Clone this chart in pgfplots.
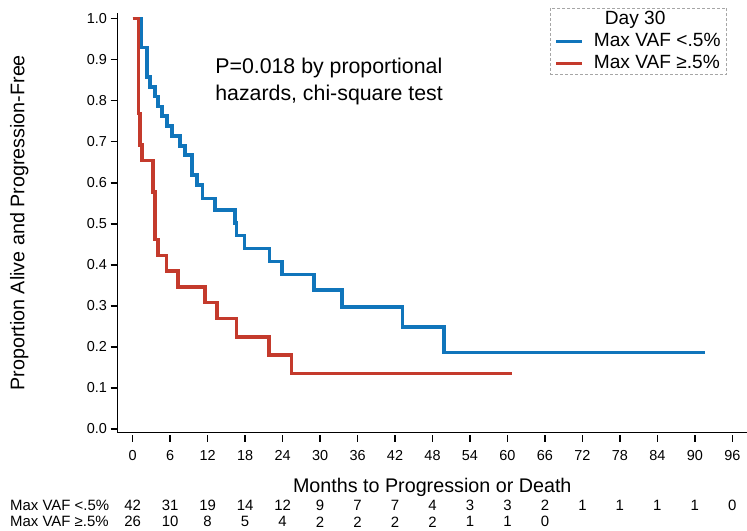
\documentclass[border=0pt]{standalone}
\usepackage{pgfplots}
\pgfplotsset{compat=1.18}
\usepackage{fontspec}
\setmainfont{Liberation Sans}
\definecolor{kmblue}{RGB}{16,117,187}
\definecolor{kmred}{RGB}{196,58,44}

% Kaplan-Meier steps: time (months), survival proportion
\pgfplotstableread{
t s
0 1
1.3 0.929
2.3 0.857
2.8 0.833
3.6 0.810
4.1 0.786
4.7 0.762
5.5 0.738
6.3 0.714
7.6 0.690
8.4 0.667
9.5 0.619
10.3 0.595
11.2 0.562
13.2 0.533
16.4 0.502
16.6 0.471
17.9 0.440
21.9 0.408
23.9 0.376
29.0 0.338
33.5 0.297
43.2 0.248
49.8 0.186
91.7 0.186
}\lowvaf
\pgfplotstableread{
t s
0 1
0.9 0.769
1.2 0.692
1.5 0.654
3.3 0.577
3.6 0.462
4.1 0.423
5.4 0.385
7.3 0.346
11.6 0.308
13.5 0.269
16.6 0.224
21.8 0.180
25.4 0.135
60.8 0.135
}\highvaf

\begin{document}
\begin{tikzpicture}
\path[use as bounding box] (0,0) rectangle (747bp,531bp);
\begin{axis}[
  at={(117.5bp,98.5bp)}, anchor=south west,
  scale only axis, width=629.5bp, height=419.5bp,
  xmin=-2.43, xmax=98.35, ymin=-0.0085, ymax=1.0134,
  axis x line*=bottom, axis y line*=left,
  axis line style={line width=1.6bp, black},
  tick align=outside,
  major tick length=7bp,
  every tick/.style={line width=1.6bp, black},
  xtick style={yshift=-2.5bp},
  xtick={0,6,...,96},
  ytick={0,0.1,0.2,0.3,0.4,0.5,0.6,0.7,0.8,0.9,1.0},
  ticklabel style={font=\fontsize{14.5}{16}\selectfont},
  /pgf/number format/assume math mode=true,
  yticklabel style={/pgf/number format/.cd, fixed, fixed zerofill, precision=1},
  xticklabel style={yshift=-7.5bp},
  xlabel={Months to Progression or Death},
  xlabel style={font=\fontsize{19.8}{22}\selectfont, at={(axis description cs:0.5,-0.13)}, anchor=center},
  ylabel={Proportion Alive and Progression-Free},
  ylabel style={font=\fontsize{19.8}{22}\selectfont, at={(axis description cs:-0.156,0.5)}, anchor=center},
  clip=false,
  legend cell align=left,
  legend image code/.code={\draw[#1] (0bp,0bp) -- (26bp,0bp);},
  legend style={at={(axis description cs:0.968,1.0119)}, anchor=north east,
    draw=gray!70, densely dashed, line width=0.6bp,
    font=\fontsize{19.2}{21}\selectfont,
    inner xsep=4bp, inner ysep=0bp, row sep=0bp, column sep=8bp,
    nodes={text height=14bp, text depth=4bp, inner sep=2bp, solid}},
]
\addlegendimage{empty legend}
\addlegendentry{\hspace*{11bp}Day 30}
\addplot[const plot, kmblue, line width=3.6bp] table[x=t, y=s] {\lowvaf};
\addlegendentry{Max VAF <.5\%}
\addplot[const plot, kmred, line width=3.6bp] table[x=t, y=s] {\highvaf};
\addlegendentry{Max VAF ≥.5\%}

\node[anchor=north west, align=left, inner sep=0pt, font=\fontsize{21.4}{26.5}\selectfont]
  at (axis cs:13.2,0.903) {P=0.018 by proportional\\hazards, chi-square test};

% numbers at risk
\begin{scope}[every node/.style={font=\fontsize{15}{16}\selectfont, inner sep=0pt}]
\node[anchor=west] at (axis cs:-19.64,-0.187) {Max VAF <.5\%};
\node[anchor=west] at (axis cs:-19.64,-0.226) {Max VAF ≥.5\%};
\node at (axis cs:0,-0.187) {42};
\node at (axis cs:6,-0.187) {31};
\node at (axis cs:12,-0.187) {19};
\node at (axis cs:18,-0.187) {14};
\node at (axis cs:24,-0.187) {12};
\node at (axis cs:30,-0.187) {9};
\node at (axis cs:36,-0.187) {7};
\node at (axis cs:42,-0.187) {7};
\node at (axis cs:48,-0.187) {4};
\node at (axis cs:54,-0.187) {3};
\node at (axis cs:60,-0.187) {3};
\node at (axis cs:66,-0.187) {2};
\node at (axis cs:72,-0.187) {1};
\node at (axis cs:78,-0.187) {1};
\node at (axis cs:84,-0.187) {1};
\node at (axis cs:90,-0.187) {1};
\node at (axis cs:96,-0.187) {0};
\node at (axis cs:0,-0.226) {26};
\node at (axis cs:6,-0.226) {10};
\node at (axis cs:12,-0.226) {8};
\node at (axis cs:18,-0.226) {5};
\node at (axis cs:24,-0.226) {4};
\node at (axis cs:30,-0.226) {2};
\node at (axis cs:36,-0.226) {2};
\node at (axis cs:42,-0.226) {2};
\node at (axis cs:48,-0.226) {2};
\node at (axis cs:54,-0.226) {1};
\node at (axis cs:60,-0.226) {1};
\node at (axis cs:66,-0.226) {0};
\end{scope}
\end{axis}
\end{tikzpicture}
\end{document}
